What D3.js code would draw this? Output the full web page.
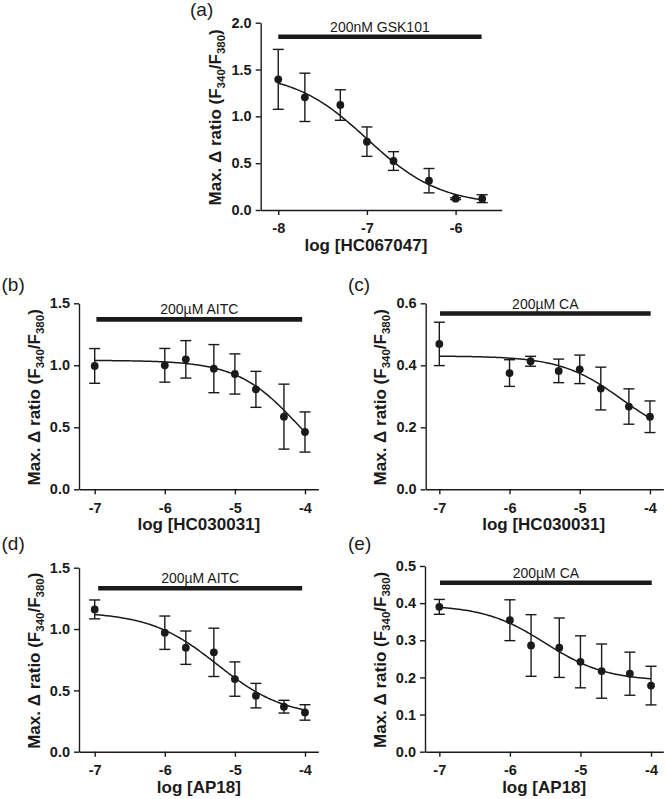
<!DOCTYPE html>
<html>
<head>
<meta charset="utf-8">
<script src="https://cdn.jsdelivr.net/npm/d3@7"></script>
<style>
  html, body { margin: 0; padding: 0; background: #fff; }
  svg { display: block; }
  text { font-family: "Liberation Sans", Arial, sans-serif; fill: #1a1a1a; }
</style>
</head>
<body>
<svg id="chart" width="666" height="799"></svg>
<script>
// ---------------- DATA ----------------
// (a) HC067047 against 200nM GSK101
const concA = [-8, -7.7, -7.3, -7, -6.7, -6.3, -6, -5.7];
const meanA = [1.395, 1.203, 1.121, 0.73, 0.523, 0.313, 0.121, 0.121];
const semA  = [0.32, 0.258, 0.163, 0.157, 0.10, 0.13, 0.01, 0.042];
const fitA  = [1.47, 0.05, -7.0, 1.05];   // top, bottom, logIC50, hill
const yTicksA = [0, 0.5, 1.0, 1.5, 2.0];
const xTicksA = [-8, -7, -6];

// (b) HC030031 against 200µM AITC
const concB = [-7, -6, -5.7, -5.3, -5, -4.7, -4.3, -4];
const meanB = [0.995, 1.0, 1.048, 0.973, 0.93, 0.806, 0.586, 0.462];
const semB  = [0.14, 0.136, 0.151, 0.194, 0.162, 0.145, 0.262, 0.162];
const fitB  = [1.04, 0.0, -4.1, 1.0];
const yTicksB = [0, 0.5, 1.0, 1.5];

// (c) HC030031 against 200µM CA
const concC = [-7, -6, -5.7, -5.3, -5, -4.7, -4.3, -4];
const meanC = [0.469, 0.375, 0.413, 0.382, 0.387, 0.325, 0.267, 0.234];
const semC  = [0.07, 0.043, 0.016, 0.038, 0.046, 0.069, 0.057, 0.051];
const fitC  = [0.43, 0.15, -4.4, 1.0];
const yTicksC = [0, 0.2, 0.4, 0.6];

// (d) AP18 against 200µM AITC
const concD = [-7, -6, -5.7, -5.3, -5, -4.7, -4.3, -4];
const meanD = [1.16, 0.97, 0.848, 0.81, 0.592, 0.457, 0.367, 0.32];
const semD  = [0.077, 0.136, 0.136, 0.197, 0.14, 0.10, 0.052, 0.063];
const fitD  = [1.14, 0.28, -5.25, 0.9];
const yTicksD = [0, 0.5, 1.0, 1.5];

// (e) AP18 against 200µM CA
const concE = [-7, -6, -5.7, -5.3, -5, -4.7, -4.3, -4];
const meanE = [0.39, 0.354, 0.286, 0.28, 0.242, 0.217, 0.21, 0.178];
const semE  = [0.02, 0.055, 0.083, 0.08, 0.07, 0.073, 0.058, 0.052];
const fitE  = [0.395, 0.19, -5.5, 1.0];
const yTicksE = [0, 0.1, 0.2, 0.3, 0.4, 0.5];

const xTicksBE = [-7, -6, -5, -4];

const panelLetters = ["(a)", "(b)", "(c)", "(d)", "(e)"];
const xTitles = ["log [HC067047]", "log [HC030031]", "log [HC030031]", "log [AP18]", "log [AP18]"];
const barLabels = ["200nM GSK101", "200\u00B5M AITC", "200\u00B5M CA", "200\u00B5M AITC", "200\u00B5M CA"];
const barValues = [1.85, 1.37, 0.567, 1.332, 0.455];
const barFrom = [-8, -6.976, -6.99, -6.95, -6.99];
const barTo   = [-5.707, -4.04, -3.99, -4.04, -3.99];

// ---------------- LAYOUT ----------------
const layouts = [
  { x0: 260.7, x1: 501.7, yTop: 22.7,  yBot: 210,   xd: [-8.198, -5.48], yd: [0, 2.0], lx: 190, ly: 16 },
  { x0: 79,    x1: 318.3, yTop: 303.3, yBot: 489.3, xd: [-7.224, -3.81], yd: [0, 1.5], lx: 1.5, ly: 291 },
  { x0: 425.7, x1: 663.3, yTop: 303.3, yBot: 489.3, xd: [-7.194, -3.81], yd: [0, 0.6], lx: 348, ly: 291 },
  { x0: 79,    x1: 318.3, yTop: 567.7, yBot: 751.7, xd: [-7.224, -3.81], yd: [0, 1.5], lx: 1.5, ly: 550 },
  { x0: 425,   x1: 663.3, yTop: 566,   yBot: 751.7, xd: [-7.203, -3.826], yd: [0, 0.5], lx: 348, ly: 550 }
];

const concs = [concA, concB, concC, concD, concE];
const means = [meanA, meanB, meanC, meanD, meanE];
const sems  = [semA, semB, semC, semD, semE];
const fits  = [fitA, fitB, fitC, fitD, fitE];
const yTicks = [yTicksA, yTicksB, yTicksC, yTicksD, yTicksE];
const xTicks = [xTicksA, xTicksBE, xTicksBE, xTicksBE, xTicksBE];

const ink = "#1a1a1a";
const svg = d3.select("#chart");

function hill(p, x) {
  const [top, bottom, c, h] = p;
  return bottom + (top - bottom) / (1 + Math.pow(10, h * (x - c)));
}

layouts.forEach((L, i) => {
  const g = svg.append("g");
  const x = d3.scaleLinear().domain(L.xd).range([L.x0, L.x1]);
  const y = d3.scaleLinear().domain(L.yd).range([L.yBot, L.yTop]);

  // axes
  const yAxis = d3.axisLeft(y).tickValues(yTicks[i]).tickSizeInner(5).tickSizeOuter(0)
    .tickPadding(4).tickFormat(d3.format(".1f"));
  const xAxis = d3.axisBottom(x).tickValues(xTicks[i]).tickSizeInner(5).tickSizeOuter(0)
    .tickPadding(8).tickFormat(d => String(d));

  const ya = g.append("g").attr("transform", `translate(${L.x0},0)`).call(yAxis);
  const xa = g.append("g").attr("transform", `translate(0,${L.yBot})`).call(xAxis);
  [ya, xa].forEach(a => {
    a.selectAll("path.domain").attr("stroke", ink).attr("stroke-width", 1.4);
    a.selectAll(".tick line").attr("stroke", ink).attr("stroke-width", 1.4);
    a.selectAll(".tick text").attr("fill", ink)
      .style("font-family", "'Liberation Sans', Arial, sans-serif")
      .style("font-size", "14.5px").style("font-weight", "bold");
  });

  // axis titles
  const xt = xTicks[i];
  g.append("text")
    .attr("x", (x(xt[0]) + x(xt[xt.length - 1])) / 2 - 1)
    .attr("y", L.yBot + 41)
    .attr("text-anchor", "middle")
    .style("font-size", "17px").style("font-weight", "bold")
    .text(xTitles[i]);

  const yt = g.append("text")
    .attr("transform", `translate(${L.x0 - 39.5},${(L.yTop + L.yBot) / 2 + 1}) rotate(-90)`)
    .attr("text-anchor", "middle")
    .style("font-size", "17px").style("font-weight", "bold");
  yt.append("tspan").text("Max. \u0394 ratio (F");
  yt.append("tspan").attr("dy", 4).style("font-size", "11.5px").text("340");
  yt.append("tspan").attr("dy", -4).text("/F");
  yt.append("tspan").attr("dy", 4).style("font-size", "11.5px").text("380");
  yt.append("tspan").attr("dy", -4).text(")");

  // panel letter
  g.append("text").attr("x", L.lx).attr("y", L.ly)
    .style("font-size", "19px").text(panelLetters[i]);

  // agonist bar
  g.append("line")
    .attr("x1", x(barFrom[i])).attr("x2", x(barTo[i]))
    .attr("y1", y(barValues[i])).attr("y2", y(barValues[i]))
    .attr("stroke", ink).attr("stroke-width", 4.6);
  g.append("text")
    .attr("x", (x(barFrom[i]) + x(barTo[i])) / 2)
    .attr("y", y(barValues[i]) - 5)
    .attr("text-anchor", "middle")
    .style("font-size", "14px")
    .text(barLabels[i]);

  // fitted curve
  const cx = concs[i];
  const xs = d3.range(cx[0], cx[cx.length - 1] + 0.0001, 0.02);
  g.append("path")
    .datum(xs)
    .attr("fill", "none").attr("stroke", ink).attr("stroke-width", 1.5)
    .attr("d", d3.line().x(d => x(d)).y(d => y(hill(fits[i], d))));

  // error bars
  const pts = cx.map((c, k) => ({ c, m: means[i][k], s: sems[i][k] }));
  const eb = g.append("g").attr("stroke", ink).attr("stroke-width", 1.4);
  pts.forEach(p => {
    const px = x(p.c), yh = y(p.m + p.s), yl = y(p.m - p.s);
    eb.append("line").attr("x1", px).attr("x2", px).attr("y1", yh).attr("y2", yl);
    eb.append("line").attr("x1", px - 5.5).attr("x2", px + 5.5).attr("y1", yh).attr("y2", yh);
    eb.append("line").attr("x1", px - 5.5).attr("x2", px + 5.5).attr("y1", yl).attr("y2", yl);
  });

  // points
  g.append("g").selectAll("circle").data(pts).join("circle")
    .attr("cx", p => x(p.c)).attr("cy", p => y(p.m)).attr("r", 3.9)
    .attr("fill", ink);
});
</script>
</body>
</html>
